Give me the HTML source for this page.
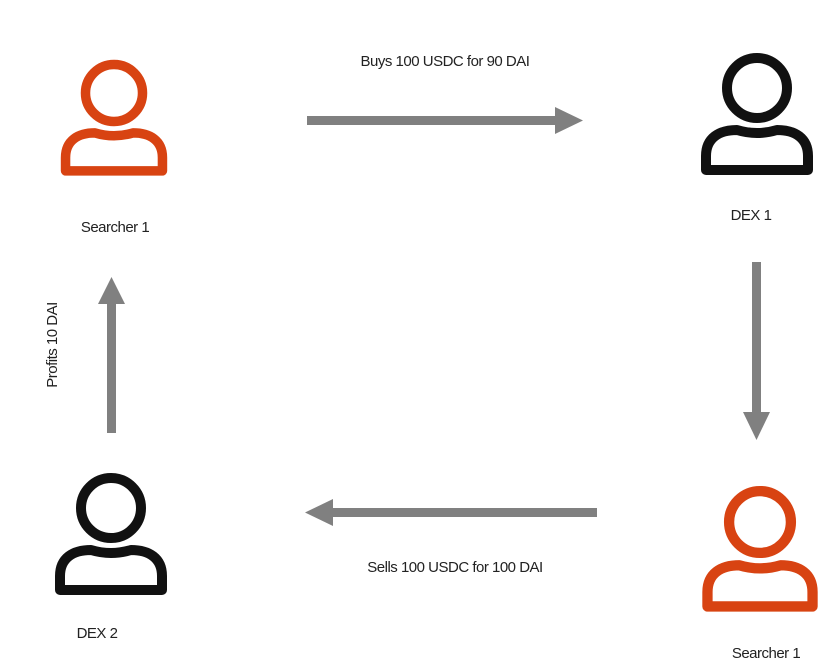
<!DOCTYPE html>
<html><head><meta charset="utf-8"><style>
html,body{margin:0;padding:0;background:#fff;}
svg text{font-family:"Liberation Sans",sans-serif;font-size:15px;fill:#222;letter-spacing:-0.5px;}
</style></head><body>
<svg width="820" height="663" viewBox="0 0 820 663" xmlns="http://www.w3.org/2000/svg">
<defs>
<g id="p" fill="none" stroke-width="10" stroke-linejoin="round">
<circle cx="0" cy="0" r="30"/>
<path d="M -51 82 V 68 C -51 50 -38 42 -20 42 Q 0 48 20 42 C 38 42 51 50 51 68 V 82 Z"/>
</g>
</defs>
<g stroke="#d84312"><use href="#p" transform="translate(114,93) scale(0.95)"/></g>
<g stroke="#111"><use href="#p" transform="translate(757,88)"/></g>
<g stroke="#111"><use href="#p" transform="translate(111,508)"/></g>
<g stroke="#d84312"><use href="#p" transform="translate(760,522) scale(1.03)"/></g>

<text x="115" y="232" text-anchor="middle">Searcher 1</text>
<text x="751" y="220" text-anchor="middle">DEX 1</text>
<text x="97" y="638" text-anchor="middle">DEX 2</text>
<text x="766" y="658" text-anchor="middle">Searcher 1</text>
<text x="445" y="66" text-anchor="middle">Buys 100 USDC for 90 DAI</text>
<text x="455" y="572" text-anchor="middle">Sells 100 USDC for 100 DAI</text>
<text transform="translate(57,345) rotate(-90)" text-anchor="middle">Profits 10 DAI</text>

<g fill="#808080">
<rect x="307" y="116" width="250" height="9"/>
<polygon points="555,107 583,120.5 555,134"/>
<rect x="752" y="262" width="9" height="152"/>
<polygon points="743,412 770,412 756.5,440"/>
<rect x="332" y="508" width="265" height="9"/>
<polygon points="333,499 305,512.5 333,526"/>
<rect x="107" y="302" width="9" height="131"/>
<polygon points="98,304 125,304 111.5,277"/>
</g>
</svg>
</body></html>
